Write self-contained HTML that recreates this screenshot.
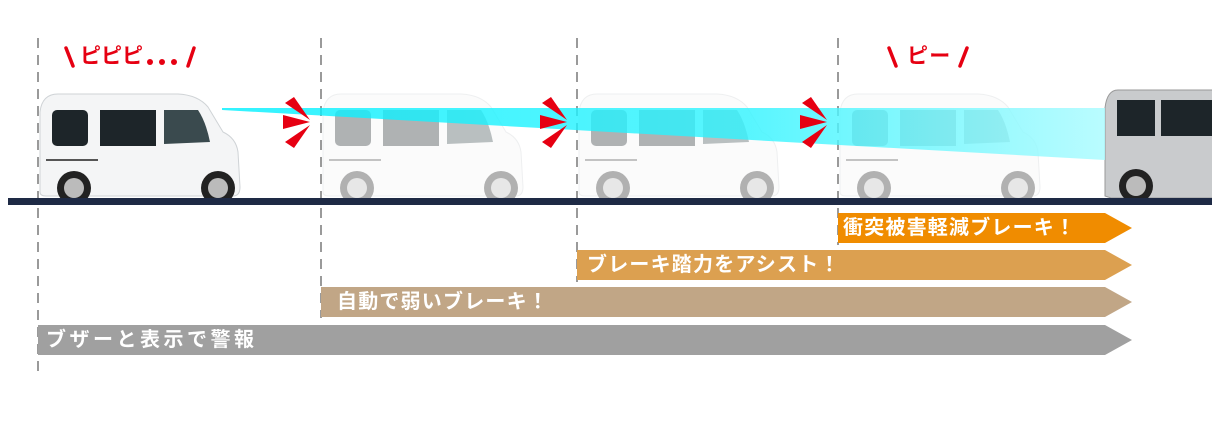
<!DOCTYPE html>
<html><head><meta charset="utf-8"><style>
body{margin:0;width:1212px;height:422px;background:#fff;overflow:hidden;position:relative;font-family:"Liberation Sans","Noto Sans CJK JP",sans-serif}
.t{position:absolute;color:#fff;font-weight:bold;font-size:20px;letter-spacing:1.2px;white-space:nowrap;line-height:24px}
</style></head><body>
<svg width="1212" height="422" style="position:absolute;left:0;top:0">
<defs>
<linearGradient id="bm" x1="0" x2="1" y1="0" y2="0">
<stop offset="0" stop-color="#00f0ff"/><stop offset="0.6" stop-color="#30f4ff"/><stop offset="1" stop-color="#a8fbff"/></linearGradient>
<g id="van">
<path d="M2,100 L2,20 Q4,2 20,2 L140,2 Q160,3 170,15 L185,40 Q198,46 200,60 L202,95 Q202,104 195,104 L8,104 Q2,104 2,100Z" fill="#f4f5f6" stroke="#cfd3d6"/>
<rect x="14" y="18" width="36" height="36" rx="5" fill="#1d2529"/>
<rect x="62" y="18" width="56" height="36" fill="#1d2529"/>
<path d="M126,18 L160,18 Q168,30 172,50 L126,52Z" fill="#3a4a4e"/>
<line x1="8" y1="68" x2="60" y2="68" stroke="#555" stroke-width="2"/>
<circle cx="36" cy="96" r="17" fill="#222"/><circle cx="36" cy="96" r="10" fill="#bbb"/>
<circle cx="180" cy="96" r="17" fill="#222"/><circle cx="180" cy="96" r="10" fill="#bbb"/>
</g>
<g id="burst" fill="#e60012">
<polygon points="2,6 11,0 27,23"/><polygon points="0,18 27,25 0,32"/><polygon points="2,45 11,51 27,28"/>
</g>
</defs>
<line x1="38" y1="38" x2="38" y2="378" stroke="#9a9a9a" stroke-width="2" stroke-dasharray="10,7"/>
<line x1="321" y1="38" x2="321" y2="318" stroke="#9a9a9a" stroke-width="2" stroke-dasharray="10,7"/>
<line x1="577" y1="38" x2="577" y2="282" stroke="#9a9a9a" stroke-width="2" stroke-dasharray="10,7"/>
<line x1="838" y1="38" x2="838" y2="245" stroke="#9a9a9a" stroke-width="2" stroke-dasharray="10,7"/>
<use href="#van" x="38" y="92"/>
<g opacity="0.35"><use href="#van" x="321" y="92"/><use href="#van" x="577" y="92"/><use href="#van" x="838" y="92"/></g>
<g transform="translate(1103,88)">
<path d="M2,108 L2,20 Q4,2 15,2 L115,2 L115,110 L8,110Z" fill="#c9cbcd" stroke="#999"/>
<rect x="14" y="12" width="38" height="36" fill="#1d2529"/><rect x="58" y="12" width="57" height="36" fill="#1d2529"/>
<circle cx="33" cy="98" r="17" fill="#222"/><circle cx="33" cy="98" r="10" fill="#bbb"/>
</g>
<polygon points="222,108 1105,108 1105,160 222,110" fill="url(#bm)" opacity="0.8"/>
<use href="#burst" x="283" y="97"/><use href="#burst" x="540" y="97"/><use href="#burst" x="800" y="97"/>
<rect x="8" y="198" width="1204" height="7" fill="#1e2a45"/>
<polygon points="838,213 1105,213 1132,228 1105,243 838,243" fill="#f08c00"/>
<polygon points="577,250 1105,250 1132,265 1105,280 577,280" fill="#dca050"/>
<polygon points="321,287 1105,287 1132,302 1105,317 321,317" fill="#c1a686"/>
<polygon points="38,325 1105,325 1132,340 1105,355 38,355" fill="#a0a0a0"/>
<g stroke="#e60012" stroke-width="3.5" stroke-linecap="round"><line x1="66" y1="48" x2="73" y2="66"/><line x1="194" y1="48" x2="188" y2="66"/><line x1="889" y1="48" x2="896" y2="66"/><line x1="967" y1="48" x2="960" y2="66"/></g>
<g fill="#e60012"><circle cx="150" cy="62" r="3"/><circle cx="162" cy="62" r="3"/><circle cx="174" cy="62" r="3"/></g>
</svg>
<div class="t" style="left:80px;top:45px;color:#e60012;font-size:21px;letter-spacing:0">ピピピ</div>
<div class="t" style="left:907px;top:45px;color:#e60012;font-size:21px">ピー</div>
<div class="t" style="left:843px;top:216px">衝突被害軽減ブレーキ！</div>
<div class="t" style="left:587px;top:253px">ブレーキ踏力をアシスト！</div>
<div class="t" style="left:337px;top:290px">自動で弱いブレーキ！</div>
<div class="t" style="left:46px;top:328px;letter-spacing:3.5px">ブザーと表示で警報</div>
</body></html>
